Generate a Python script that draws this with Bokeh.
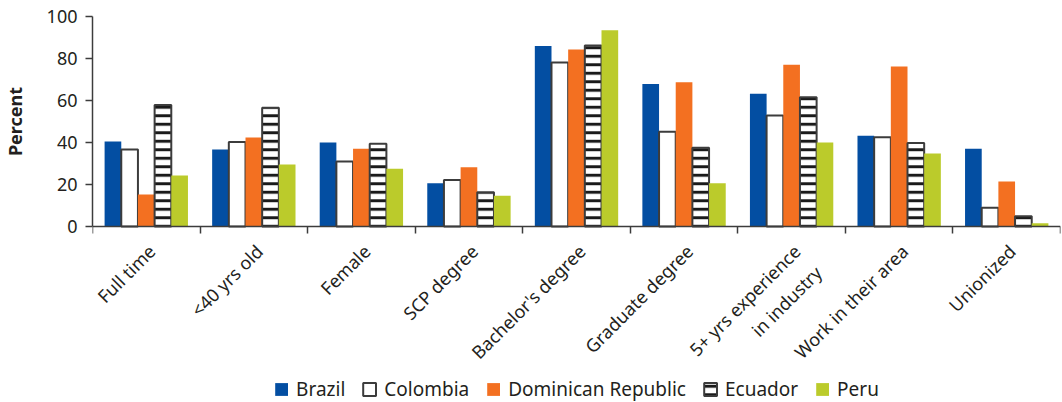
from bokeh.plotting import figure
from bokeh.layouts import row
from bokeh.models import (ColumnDataSource, Range1d, FixedTicker, Legend, LegendItem)
from bokeh.core.properties import value
from bokeh.embed import file_html
from bokeh.resources import INLINE
import math

categories = ["Full time", "<40 yrs old", "Female", "SCP degree", "Bachelor's degree",
              "Graduate degree", "5+ yrs experience\nin industry", "Work in their area", "Unionized"]
series_names = ["Brazil", "Colombia", "Dominican Republic", "Ecuador", "Peru"]
brazil = [40.5, 36.7, 40.0, 20.6, 86.0, 67.9, 63.2, 43.2, 37.0]
colombia = [36.7, 40.2, 31.0, 22.2, 78.1, 45.1, 52.9, 42.5, 8.9]
dominican = [15.2, 42.4, 37.0, 28.2, 84.3, 68.7, 77.0, 76.2, 21.4]
ecuador = [57.8, 56.5, 39.4, 16.3, 86.2, 37.5, 61.6, 39.8, 4.9]
peru = [24.3, 29.5, 27.5, 14.6, 93.5, 20.6, 40.0, 34.8, 1.6]
y_ticks = [0, 20, 40, 60, 80, 100]
y_title = "Percent"

FONT = "Noto Sans"
TEXT = "#231f20"
AXIS = "#3c3c3c"

W, H = 1062, 402
LABEL_W = 29
TOP, BOTTOM = 16, 0
ZERO_PX = 226  # screen row of y = 0 (frame keeps room below for labels and legend)
px_per_unit = (ZERO_PX - TOP) / 100.0
y_start = 100 - (H - TOP - BOTTOM) / px_per_unit

# narrow strip carrying the y-axis title, sharing the vertical scale
pt = figure(width=LABEL_W, height=H, output_backend="svg", toolbar_location=None,
            x_range=Range1d(0, 1), y_range=Range1d(y_start, 100),
            x_axis_location=None, y_axis_location=None,
            min_border_left=0, min_border_right=0, min_border_top=TOP, min_border_bottom=BOTTOM)
pt.outline_line_color = None
pt.grid.visible = False
pt.text(x=[0.5], y=[(y_ticks[0] + y_ticks[-1]) / 2], text=[y_title], angle=math.pi / 2,
        text_align="center", text_baseline="middle", text_font=value(FONT),
        text_font_style="bold", text_font_size="18px", text_color=TEXT)

p = figure(width=W - LABEL_W, height=H, output_backend="svg", toolbar_location=None,
           x_range=Range1d(0, len(categories)), y_range=Range1d(y_start, 100),
           x_axis_location="above",
           min_border_left=92 - LABEL_W, min_border_right=2, min_border_top=TOP,
           min_border_bottom=BOTTOM)
p.outline_line_color = None
p.grid.visible = False
p.background_fill_color = "white"
p.border_fill_color = "white"

bw = 0.155
styles = [
    dict(fill_color="#034ea2", line_color=None),
    dict(fill_color="white", line_color=AXIS, line_width=2),
    dict(fill_color="#f37021", line_color=None),
    dict(fill_color="white", line_color=AXIS, line_width=2,
         hatch_pattern="horizontal_line", hatch_color="#1a1a1a", hatch_scale=8.5, hatch_weight=3),
    dict(fill_color="#bbcb2b", line_color=None),
]
all_vals = [brazil, colombia, dominican, ecuador, peru]
items = []
for j, (name, vals, st) in enumerate(zip(series_names, all_vals, styles)):
    xs = [i + 0.5 + (j - 2) * bw for i in range(len(categories))]
    src = ColumnDataSource(dict(x=xs, top=vals))
    r = p.vbar(x="x", top="top", bottom=0, width=bw, source=src, **st)
    items.append(LegendItem(label=name, renderers=[r]))

# x axis drawn at y = 0, boundary ticks pointing down
xa = p.xaxis[0]
xa.fixed_location = 0
xa.ticker = FixedTicker(ticks=[], minor_ticks=list(range(len(categories) + 1)))
xa.major_tick_in = 0
xa.major_tick_out = 0
xa.minor_tick_in = 7
xa.minor_tick_out = 0
xa.minor_tick_line_color = AXIS
xa.minor_tick_line_width = 1.5
xa.axis_line_color = AXIS
xa.axis_line_width = 1.5
xa.major_label_text_font_size = "0px"

# category labels
centers = [i + 0.5 for i in range(len(categories))]
lab_src = ColumnDataSource(dict(x=centers, y=[0] * len(categories), text=categories))
p.text(x="x", y="y", text="text", source=lab_src, angle=math.pi / 4,
       text_align="right", text_baseline="top", x_offset=-3, y_offset=13,
       text_font=value(FONT), text_font_size="18px", text_color=TEXT, text_line_height=1.25)

# y axis
ya = p.yaxis[0]
ya.ticker = FixedTicker(ticks=y_ticks)
ya.bounds = (0, 100)
ya.major_tick_in = 0
ya.major_tick_out = 7
ya.minor_tick_line_color = None
ya.major_tick_line_color = AXIS
ya.major_tick_line_width = 1.5
ya.axis_line_color = AXIS
ya.axis_line_width = 1.5
ya.major_label_text_font = FONT
ya.major_label_text_font_size = "18px"
ya.major_label_text_color = TEXT
ya.major_label_standoff = 8

legend = Legend(items=items, orientation="horizontal", location="bottom_center",
                glyph_width=16, glyph_height=16, spacing=16, label_standoff=7,
                padding=0, margin=0, border_line_color=None, background_fill_alpha=0,
                label_text_font=FONT, label_text_font_size="19px", label_text_color=TEXT)
p.add_layout(legend, "center")

layout = row(pt, p, spacing=0)
open("out.html", "w").write(file_html(layout, INLINE))
